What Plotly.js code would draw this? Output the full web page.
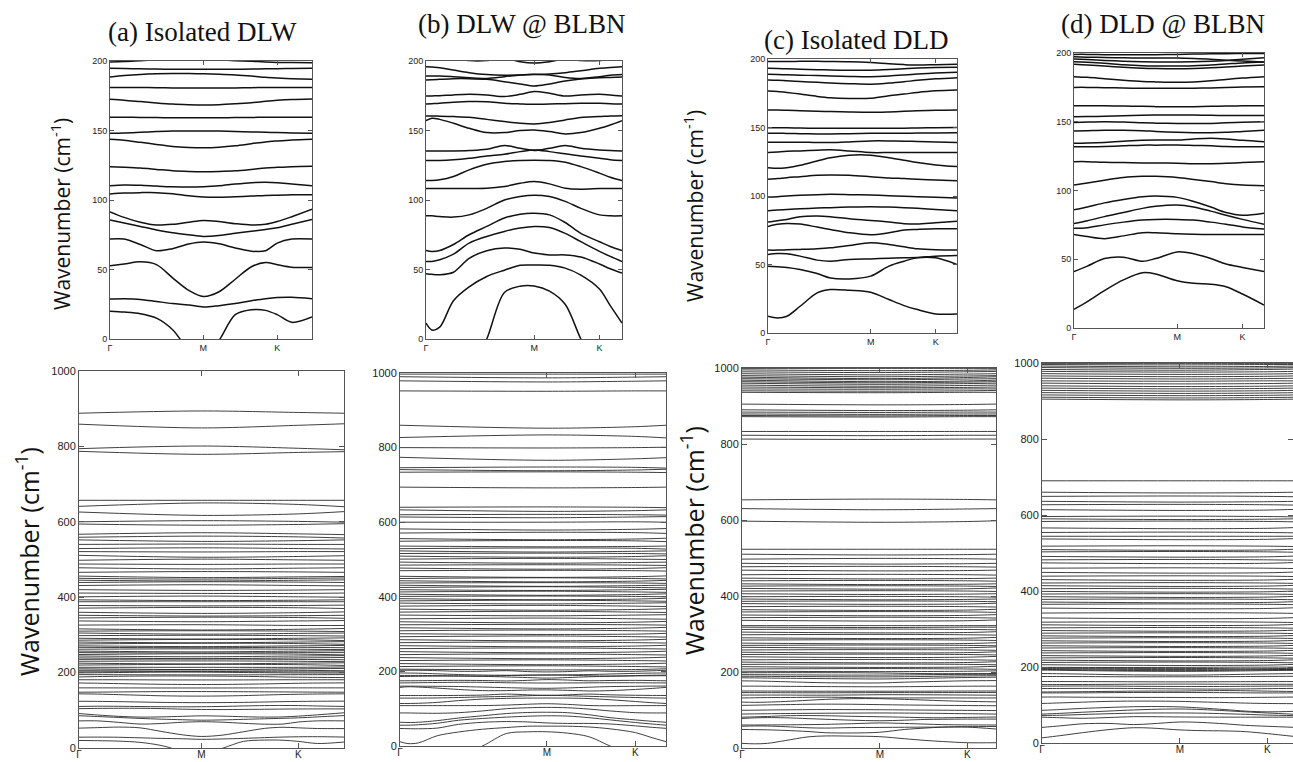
<!DOCTYPE html>
<html><head><meta charset="utf-8">
<script src="https://cdn.plot.ly/plotly-3.0.1.min.js"></script>
<style>html,body{margin:0;padding:0;background:#fff;}#chart{width:1293px;height:762px;}</style>
</head><body><div id="chart"></div>
<script>
const W = 1293, H = 762;

// ---------- DATA ----------
const symLabels = ['Γ', 'M', 'K'];
const symA = [0, 0.462, 0.828];
const symB = [0, 0.552, 0.885];
const symC = [0, 0.543, 0.887];
const symD = [0, 0.543, 0.887];

// k-grids of the low-frequency (0-200 cm-1) bands
const kTopA = [0, 0.07, 0.15, 0.23, 0.31, 0.39, 0.462, 0.54, 0.62, 0.70, 0.77, 0.828, 0.9, 1.0];
const kTopB = [0, 0.03, 0.07, 0.14, 0.22, 0.31, 0.40, 0.48, 0.552, 0.63, 0.71, 0.79, 0.885, 0.94, 1.0];
const kTopC = [0, 0.05, 0.1, 0.17, 0.26, 0.33, 0.43, 0.543, 0.64, 0.72, 0.79, 0.887, 1.0];
const kTopD = [0, 0.07, 0.16, 0.26, 0.36, 0.43, 0.543, 0.63, 0.72, 0.80, 0.887, 1.0];

// (a) Isolated DLW, low bands
const bandsTopA = [
  [20, 19.4, 18.2, 15, 6.7, -8, -15, -1, 17.5, 21, 20.6, 17.5, 12, 15.8],
  [28.7, 28.9, 28.5, 27, 25.5, 24.5, 23, 24, 25.5, 27.5, 29, 29.8, 30, 29],
  [52.7, 54, 55.5, 53.5, 44, 35, 30.6, 34, 43, 52, 55, 53.5, 51.7, 51.5],
  [71.9, 71.9, 68, 63.5, 65, 68.3, 69.7, 68.5, 65.5, 63.2, 63.5, 69, 71.9, 71.9],
  [85.7, 83.5, 81, 78.5, 76.5, 75, 73.8, 74.5, 76, 77.5, 78.8, 80, 82.5, 86],
  [91.5, 87.5, 84, 82, 82.5, 84, 85.3, 84.5, 83, 82, 82.5, 84.5, 88, 93.4],
  [104.4, 105, 105.3, 105.3, 104.5, 103, 102.2, 102, 102.3, 102.8, 103.3, 103.5, 103.7, 103.7],
  [110.2, 110.8, 110.6, 110, 109.5, 109.3, 109.5, 110.2, 111.5, 112.5, 112.8, 112.5, 111.5, 110.2],
  [124, 123.6, 123, 122, 121, 120.5, 120.3, 120.5, 121, 122, 123, 123.5, 124, 124.3],
  [143.7, 143, 141.5, 140, 138.5, 137.8, 137.6, 138, 139, 140.5, 141.8, 142.5, 143.2, 143.7],
  [148, 148.2, 148.7, 149.2, 149.6, 149.7, 149.7, 149.6, 149.3, 149, 148.7, 148.5, 148.2, 148],
  [159.5, 159.5, 159.4, 159.3, 159.2, 159.2, 159.2, 159.2, 159.3, 159.4, 159.5, 159.5, 159.5, 159.5],
  [172.4, 171.8, 170.8, 169.8, 169, 168.6, 168.4, 168.6, 169.2, 170, 171, 171.7, 172.3, 172.7],
  [181, 181, 181, 180.8, 180.6, 180.5, 180.5, 180.5, 180.6, 180.8, 181, 181, 181, 181],
  [188.5, 189.5, 190.3, 190.8, 191, 191, 190.8, 190.5, 190, 189.2, 188.3, 187.8, 187.3, 186.8],
  [194.7, 194.6, 194.4, 194.2, 194.1, 194, 194, 194, 194.1, 194.2, 194.4, 194.5, 194.6, 194.7],
  [199.3, 199.6, 200.2, 200.8, 201.2, 201.3, 201.2, 200.8, 200.2, 199.8, 199.3, 199, 198.9, 198.8]
];

// (b) DLW @ BLBN, low bands
const bandsTopB = [
  [11.5, 6.5, 8.5, 27.5, 37.5, 45, 49.5, 53, 53.2, 53, 51, 46, 36, 24, 11.5],
  [-70, -65, -58, -45, -25, 0, 33.5, 38, 38.2, 34.5, 25, 0, -25, -45, -70],
  [47, 46.5, 46.2, 48, 58, 63.5, 65.5, 64.5, 61.8, 60.5, 60.5, 59, 54, 50.5, 47.4],
  [55.8, 55.8, 57, 61, 69, 73.8, 77.4, 79.8, 81, 80.2, 76, 70, 63, 59.4, 55.8],
  [63.7, 63, 63.7, 68, 75, 81, 87, 89.8, 90.5, 89.3, 83.8, 76, 70, 66.6, 63.7],
  [88.6, 88.6, 88.1, 87.7, 89.3, 94, 100, 102.5, 103.5, 102.5, 99, 94, 89.3, 88.6, 88.6],
  [108.3, 108.3, 108.3, 108.3, 108.3, 108.4, 109.7, 112, 113.3, 111.6, 108.5, 107.8, 108.2, 108.3, 108.3],
  [114, 114, 114.5, 116.9, 121.7, 125.7, 127.7, 128.4, 128.6, 128.4, 127.2, 124, 119.3, 116.4, 114],
  [128.4, 128.4, 128.4, 128.9, 130, 131.7, 132.9, 134.8, 136, 134.8, 133.2, 131.7, 130, 129, 128.4],
  [135.3, 135.3, 135.3, 135.3, 135.6, 136.5, 139.2, 137.2, 135.6, 137.2, 139.2, 137.2, 136, 135.6, 135.3],
  [157.1, 158.8, 158, 155.2, 151.6, 148.5, 148.5, 150, 150.4, 149.2, 147.5, 148.5, 151.6, 154, 157.1],
  [160.5, 160.5, 160.3, 160, 159.5, 158, 156.4, 155.2, 154.7, 155.7, 157.6, 159.3, 160, 160.5, 160.7],
  [169.1, 169.3, 169.6, 170.3, 170.8, 170.7, 169.6, 169.1, 168.8, 169.1, 169.3, 169.6, 169.6, 169.3, 169.1],
  [174.8, 174.9, 175, 175.6, 176, 175.6, 174.4, 176, 178, 176.8, 174.8, 175.6, 176, 175.6, 174.8],
  [186.3, 186.5, 186.8, 187.3, 187.3, 186.8, 185.1, 183.5, 182, 183.5, 185.6, 187, 188, 188.2, 188.5],
  [189.2, 189.2, 189.2, 188.7, 188, 187.5, 188.7, 189.9, 190.4, 189.9, 188.2, 187.5, 188.7, 189.7, 190.2],
  [195.9, 195.6, 195.2, 193.5, 191.6, 190.2, 189.7, 189.9, 190.2, 190.6, 191.6, 193, 194.7, 195.4, 195.9],
  [203, 203, 203, 202, 200.3, 200.3, 202, 199.5, 198.6, 199.5, 201.5, 200.3, 200.3, 201.5, 203]
];

// (c) Isolated DLD, low bands
const bandsTopC = [
  [12.2, 11.0, 12.2, 19.5, 29.3, 31.7, 31.2, 29.8, 24.4, 20.0, 17.1, 13.9, 13.9],
  [48.8, 48.3, 47.8, 46.3, 43.4, 40.2, 39.5, 41.5, 48.8, 52.4, 54.9, 54.9, 50.0],
  [57.3, 58.0, 57.8, 56.1, 53.2, 52.4, 53.7, 54.1, 54.6, 54.9, 55.1, 56.1, 56.6],
  [60.5, 60.5, 60.7, 61.0, 61.5, 62.2, 63.9, 65.9, 64.6, 62.9, 61.5, 60.7, 60.5],
  [77.8, 79.3, 80.0, 79.5, 77.3, 75.6, 73.2, 71.7, 73.2, 75.1, 75.6, 76.1, 76.1],
  [81.0, 82.0, 82.9, 84.9, 85.4, 84.9, 83.4, 82.2, 81.0, 79.8, 79.5, 80.5, 81.5],
  [89.3, 89.8, 90.2, 90.7, 91.2, 91.5, 91.9, 92.2, 91.9, 91.5, 91.0, 90.2, 89.3],
  [99.3, 99.5, 100.0, 100.5, 101.0, 101.2, 101.0, 100.7, 100.2, 99.8, 99.5, 99.0, 98.5],
  [112.2, 112.7, 113.4, 114.1, 115.1, 115.4, 115.1, 114.1, 113.2, 112.7, 112.2, 111.7, 111.2],
  [120.7, 120.2, 120.7, 122.4, 125.6, 128, 129.8, 129.8, 128, 126.1, 124.4, 122.7, 121.5],
  [131.7, 132.2, 132.7, 132.9, 133.4, 133.7, 132.9, 131.7, 131.7, 131.7, 131.7, 131.7, 131.7],
  [139.2, 139.3, 139.3, 139.3, 139.0, 139.0, 139.5, 140.2, 140.2, 140.0, 139.8, 139.4, 139.0],
  [145.8, 145.8, 145.7, 145.5, 145.3, 145.3, 145.5, 145.8, 145.8, 145.8, 145.9, 146, 146.2],
  [149.9, 149.9, 149.8, 149.6, 149.4, 149.4, 149.4, 149.4, 149.4, 149.5, 149.7, 149.9, 150.0],
  [162.8, 162.8, 162.6, 162.3, 161.9, 161.6, 161.3, 161.1, 161.4, 161.8, 162.2, 162.6, 162.8],
  [176.6, 176.3, 175.6, 174.4, 172.7, 171.7, 171.2, 171.3, 173.2, 174.4, 175.6, 176.8, 177.4],
  [184.7, 184.5, 184.1, 183.6, 183.0, 182.5, 182.0, 181.6, 182.4, 183.4, 184.4, 185.5, 186.4],
  [188.8, 188.7, 188.5, 188.2, 187.9, 187.6, 187.3, 187.1, 187.6, 188.3, 189.0, 189.7, 190.3],
  [193.2, 193.0, 192.8, 192.5, 192.2, 192.0, 191.8, 191.8, 192.3, 192.9, 193.4, 193.8, 193.9],
  [198.1, 198.1, 198.2, 198.3, 198.3, 198.2, 198.0, 197.4, 196.5, 195.9, 195.6, 195.8, 196.1]
];

// (d) DLD @ BLBN, low bands
const bandsTopD = [
  [13.6, 19.2, 27.2, 35, 40.2, 39.3, 34.4, 32.5, 31.8, 30, 24.7, 16.7],
  [41, 45, 50.5, 51.5, 48.5, 50.5, 55.3, 54, 50.5, 46.5, 44, 41],
  [68, 66.5, 65, 67, 69.3, 69.3, 68.5, 68.2, 68, 68, 68, 68],
  [72.5, 73, 75, 77, 78.5, 79, 79, 78.5, 77, 75.5, 73.5, 72],
  [76, 78, 81, 84, 87, 88.5, 89.5, 88, 85, 82, 79, 75.5],
  [86, 88, 91, 93.5, 95.5, 96, 95, 92, 88, 84, 82, 83.5],
  [104, 105.5, 107.5, 109.5, 110.3, 110.3, 109.5, 108, 106.5, 105, 104, 103.5],
  [121, 121, 120.5, 120.3, 120, 120, 119.8, 119.5, 119.5, 119.8, 120.3, 121],
  [131.8, 131.8, 132, 132.5, 133, 133, 133.1, 132.8, 132.5, 132, 131.8, 131.8],
  [134.3, 134.5, 135, 135.8, 136.5, 136.7, 136.7, 137.5, 138, 137.5, 136.5, 135.5],
  [143.3, 143.5, 143.8, 143.8, 143.5, 143, 142.3, 142, 142, 142.3, 143, 143.8],
  [149.5, 149.8, 150, 149.8, 149.3, 149, 148.8, 148.7, 148.8, 149.2, 149.6, 150],
  [153.7, 153.8, 154, 154.3, 154.7, 154.9, 155, 154.9, 154.7, 154.5, 154.5, 154.5],
  [161.7, 161.7, 161.6, 161.4, 161.2, 161, 160.9, 161, 161.2, 161.4, 161.6, 161.7],
  [175, 175, 174.8, 174.5, 174.3, 174.3, 174.3, 174.4, 174.6, 174.9, 175.2, 175.5],
  [182.8, 182.3, 181.3, 180.2, 179.3, 179, 178.7, 179, 179.8, 180.8, 181.8, 182.8],
  [191.8, 191.3, 190.5, 189.7, 189, 188.7, 188.5, 188.7, 189.2, 189.8, 190.5, 191.2],
  [193.7, 193.2, 192.5, 191.5, 190.8, 190.6, 190.5, 190.8, 191.3, 192, 192.8, 193.5],
  [195.6, 195.2, 194.6, 194, 193.6, 193.5, 193.5, 193.6, 194, 194.6, 195.5, 196.5],
  [197.3, 197, 196.7, 196.5, 196.3, 196.3, 196.3, 196, 195.5, 194.8, 194.2, 193.5],
  [199, 199, 198.8, 198.7, 198.7, 198.8, 199, 199.2, 199.4, 199.5, 199.6, 199.7]
];

// high-frequency bands (values at Γ, M, K, path end)
const kHiA = [0, 0.462, 0.828, 1.0];
const kHiB = [0, 0.552, 0.885, 1.0];
const kHiC = [0, 0.543, 0.887, 1.0];
const kHiD = [0, 0.543, 0.887, 1.0];

const hiBandsA = [
  [888, 894, 890, 888], [859, 849, 856, 860], [794, 801, 795, 791], [787, 779, 784, 786],
  [657, 657, 657, 657], [641, 650, 646, 640], [626, 617, 621, 627], [600, 603, 601, 599],
  [594, 591, 593, 595], [567, 571, 568, 566], [559, 562, 560, 557], [552, 548, 550, 552],
  [540, 541, 540, 540], [529, 531, 529, 528], [521, 520, 521, 521], [511, 506, 508, 510],
  [498, 501, 499, 498], [488, 487, 488, 488], [478, 475, 477, 478], [466, 468, 467, 466],
  [456, 452, 454, 455], [450, 448, 450, 451], [445, 443, 445, 446], [439, 441, 440, 439],
  [431, 433, 431, 430], [420, 418, 419, 420], [411, 410, 410, 411], [401, 403, 401, 400],
  [393, 391, 392, 393], [388, 388, 388, 388], [378, 377, 378, 379], [371, 373, 372, 370],
  [360, 357, 359, 361], [352, 350, 351, 352], [345, 347, 346, 344], [337, 335, 337, 338],
  [326, 327, 325, 325], [316, 313, 315, 317], [310, 311, 310, 309], [305, 302, 304, 305],
  [298, 299, 298, 297], [291, 289, 291, 292], [286, 288, 287, 285], [281, 279, 281, 282],
  [276, 278, 277, 275], [271, 269, 271, 272], [267, 266, 267, 266], [262, 263, 262, 261],
  [257, 255, 257, 258], [253, 252, 253, 253], [248, 250, 249, 247], [244, 242, 244, 245],
  [239, 237, 239, 240], [235, 236, 235, 234], [230, 231, 230, 229], [225, 223, 225, 226],
  [220, 222, 221, 219], [214, 214, 214, 215], [210, 208, 210, 211], [206, 207, 206, 205],
  [202, 203, 202, 202]
];

const hiBandsB = [
  [997, 997, 997, 997], [990, 987, 989, 990], [979, 976, 978, 979], [952, 951, 952, 952],
  [860, 852, 856, 860], [827, 834, 830, 826], [800, 799, 800, 801], [774, 766, 770, 773],
  [746, 748, 747, 745], [741, 738, 740, 742], [734, 735, 734, 733], [694, 692, 693, 694],
  [640, 641, 640, 639], [633, 629, 631, 633], [620, 621, 620, 619], [614, 612, 614, 615],
  [600, 600, 601, 600], [582, 579, 581, 583], [571, 573, 572, 570], [556, 553, 555, 557],
  [549, 551, 550, 548], [536, 534, 535, 536], [529, 531, 530, 528], [523, 520, 522, 523],
  [516, 517, 516, 515], [509, 506, 508, 510], [501, 503, 501, 500], [493, 490, 492, 493],
  [485, 486, 485, 484], [477, 474, 476, 478], [470, 471, 470, 469], [455, 452, 454, 456],
  [449, 451, 449, 448], [443, 440, 442, 444], [437, 438, 437, 436], [431, 428, 430, 431],
  [425, 427, 425, 424], [419, 417, 419, 420], [413, 415, 413, 412], [407, 404, 406, 408],
  [401, 402, 401, 400], [395, 392, 394, 396], [389, 391, 389, 388], [383, 381, 383, 384],
  [375, 377, 375, 374], [367, 364, 366, 368], [359, 361, 359, 358], [351, 349, 351, 352],
  [341, 343, 341, 340], [333, 330, 332, 334], [325, 326, 325, 324], [317, 314, 316, 318],
  [309, 311, 309, 308], [301, 299, 300, 302], [293, 295, 293, 292], [285, 282, 284, 286],
  [277, 279, 277, 276], [269, 266, 268, 270], [261, 263, 261, 260], [253, 250, 252, 254],
  [245, 247, 245, 244], [237, 234, 236, 238], [229, 231, 229, 228], [221, 218, 220, 222],
  [213, 215, 213, 212], [206, 204, 205, 207]
];

const hiBandsC = [
  [999, 999, 999, 999], [995, 993, 994, 995], [990, 988, 990, 991], [985, 982, 984, 985],
  [980, 977, 979, 980], [976, 972, 975, 977], [972, 969, 971, 972], [968, 964, 966, 968],
  [964, 961, 963, 964], [960, 957, 959, 960], [955, 952, 954, 955], [950, 948, 949, 950],
  [945, 944, 945, 945], [940, 939, 940, 941], [936, 935, 936, 936], [905, 903, 904, 905],
  [890, 888, 889, 890], [884, 883, 884, 884], [879, 878, 879, 879], [875, 874, 875, 875],
  [872, 871, 872, 872], [833, 833, 833, 833], [823, 822, 823, 823], [813, 812, 813, 813],
  [653, 655, 654, 653], [630, 627, 629, 630], [597, 594, 596, 598], [523, 523, 523, 523],
  [510, 508, 509, 510], [497, 499, 498, 497], [486, 484, 485, 486], [477, 478, 477, 476],
  [468, 466, 467, 468], [456, 457, 456, 455], [447, 445, 446, 447], [440, 441, 440, 439],
  [432, 430, 431, 432], [426, 427, 426, 425], [420, 418, 419, 421], [413, 414, 413, 412],
  [406, 404, 405, 406], [398, 399, 398, 397], [392, 390, 391, 392], [386, 387, 386, 385],
  [380, 378, 379, 381], [372, 373, 372, 371], [364, 362, 363, 365], [358, 359, 358, 357],
  [350, 348, 349, 351], [343, 344, 343, 342], [336, 334, 335, 337], [322, 322, 322, 322],
  [318, 317, 318, 318], [312, 313, 312, 311], [305, 303, 304, 306], [298, 299, 298, 297],
  [290, 288, 289, 291], [284, 285, 284, 283], [276, 274, 275, 277], [270, 271, 270, 269],
  [265, 263, 264, 266], [258, 259, 258, 257], [252, 250, 251, 253], [246, 247, 246, 245],
  [240, 238, 239, 241], [232, 233, 232, 231], [226, 224, 225, 227], [220, 221, 220, 219],
  [214, 212, 213, 215], [208, 209, 208, 207], [202, 201, 202, 203]
];

const hiBandsD = [
  [999, 999, 999, 999], [996, 995, 996, 996], [992, 990, 991, 992], [988, 986, 987, 988],
  [983, 981, 983, 984], [978, 976, 977, 978], [972, 970, 971, 972], [966, 964, 965, 966],
  [960, 958, 959, 960], [953, 952, 953, 953], [947, 945, 946, 947], [940, 938, 939, 940],
  [934, 932, 933, 934], [928, 926, 927, 928], [922, 920, 921, 922], [916, 914, 915, 916],
  [910, 908, 909, 910], [905, 903, 904, 905], [690, 690, 690, 690], [660, 658, 659, 660],
  [649, 650, 649, 648], [636, 634, 635, 636], [627, 628, 627, 626], [614, 612, 613, 615],
  [596, 597, 596, 595], [590, 588, 589, 590], [583, 584, 583, 582], [566, 564, 565, 567],
  [554, 555, 554, 553], [544, 544, 544, 544], [537, 535, 536, 538], [518, 519, 518, 517],
  [509, 507, 508, 510], [503, 504, 503, 502], [491, 489, 490, 492], [482, 483, 482, 481],
  [474, 472, 473, 475], [460, 461, 460, 459], [449, 447, 448, 450], [439, 440, 439, 438],
  [430, 428, 429, 431], [421, 422, 421, 420], [414, 412, 413, 415], [406, 407, 406, 405],
  [399, 397, 398, 400], [392, 393, 392, 391], [385, 383, 384, 386], [378, 379, 378, 377],
  [371, 369, 370, 372], [365, 366, 365, 364], [355, 353, 354, 356], [342, 343, 342, 341],
  [329, 327, 328, 330], [318, 319, 318, 317], [311, 309, 310, 312], [303, 304, 303, 302],
  [296, 294, 295, 297], [289, 290, 289, 288], [282, 280, 281, 283], [276, 277, 276, 275],
  [269, 267, 268, 270], [263, 264, 263, 262], [256, 254, 255, 257], [250, 251, 250, 249],
  [243, 241, 242, 244], [237, 238, 237, 236], [230, 228, 229, 231], [224, 225, 224, 223],
  [218, 216, 217, 219], [212, 213, 212, 211], [206, 204, 205, 207]
];

const panelTitles = ['(a) Isolated DLW', '(b) DLW @ BLBN', '(c) Isolated DLD', '(d) DLD @ BLBN'];
const yTitle = 'Wavenumber (cm<sup>-1</sup>)';
const topTicks = [0, 50, 100, 150, 200];
const bottomTicks = [0, 200, 400, 600, 800, 1000];

// ---------- LAYOUT GEOMETRY (pixels) ----------
const panels = [
  {box: [110, 312, 61, 339], sym: symA, low: [kTopA, bandsTopA], hi: null, top: true, xmax: 1},
  {box: [426, 622, 61, 339], sym: symB, low: [kTopB, bandsTopB], hi: null, top: true, xmax: 1},
  {box: [768, 957, 59, 333], sym: symC, low: [kTopC, bandsTopC], hi: null, top: true, xmax: 1},
  {box: [1074, 1264, 53, 328], sym: symD, low: [kTopD, bandsTopD], hi: null, top: true, xmax: 1},
  {box: [79, 344, 371, 748], sym: symA, low: [kTopA, bandsTopA], hi: [kHiA, hiBandsA], top: false, xmax: 1},
  {box: [400, 666, 373, 746], sym: symB, low: [kTopB, bandsTopB], hi: [kHiB, hiBandsB], top: false, xmax: 1},
  {box: [742, 996, 368, 748], sym: symC, low: [kTopC, bandsTopC], hi: [kHiC, hiBandsC], top: false, xmax: 1},
  {box: [1042, 1293, 363, 743], sym: symD, low: [kTopD, bandsTopD], hi: [kHiD, hiBandsD], top: false, xmax: 0.988}
];

function bandTrace(k, bands, xa, ya, width, color) {
  const x = [], y = [];
  bands.forEach(b => {
    b.forEach((v, i) => { x.push(k[i]); y.push(v); });
    x.push(null); y.push(null);
  });
  return {type: 'scatter', mode: 'lines', x: x, y: y, xaxis: xa, yaxis: ya,
    connectgaps: false, hoverinfo: 'skip', showlegend: false,
    line: {color: color, width: width, shape: 'spline', smoothing: 0.9}};
}

const traces = [];
const layout = {
  width: W, height: H, margin: {l: 0, r: 0, t: 0, b: 0},
  paper_bgcolor: '#ffffff', plot_bgcolor: '#ffffff', showlegend: false,
  font: {family: 'Liberation Sans, Arial, sans-serif', color: '#222'},
  annotations: []
};

panels.forEach((p, idx) => {
  const n = idx + 1;
  const xa = n === 1 ? 'x' : 'x' + n;
  const ya = n === 1 ? 'y' : 'y' + n;
  const [x0, x1, y0, y1] = p.box;
  const fs = p.top ? 9 : 11;
  const axCommon = {
    showline: true, linecolor: '#555', linewidth: 1, mirror: 'ticks',
    ticks: 'inside', ticklen: p.top ? 4 : 5, tickwidth: 1, tickcolor: '#555',
    showgrid: false, zeroline: false, fixedrange: true,
    tickfont: {size: fs, color: '#222', family: 'Liberation Sans, Arial, sans-serif'}
  };
  layout['xaxis' + (n === 1 ? '' : n)] = Object.assign({}, axCommon, {
    domain: [x0 / W, Math.min(1, x1 / W)], anchor: ya,
    range: [0, p.xmax], tickmode: 'array', tickvals: p.sym, ticktext: symLabels,
    tickfont: {size: p.top ? 9 : 10, color: '#222', family: 'Liberation Sans, Arial, sans-serif'},
    ticklabelstandoff: p.top ? 0 : -3
  });
  layout['yaxis' + (n === 1 ? '' : n)] = Object.assign({}, axCommon, {
    domain: [1 - y1 / H, 1 - y0 / H], anchor: xa,
    range: p.top ? [0, 200] : [0, 1000], tickmode: 'array',
    tickvals: p.top ? topTicks : bottomTicks
  });
  const w = p.top ? 1.5 : 0.9;
  const col = p.top ? '#111' : '#2a2a2a';
  traces.push(bandTrace(p.low[0], p.low[1], xa, ya, w, col));
  if (p.hi) traces.push(bandTrace(p.hi[0], p.hi[1], xa, ya, w, col));
});

// panel titles
const titlePos = [[202, 32], [522, 24], [856, 40], [1163, 24]];
panelTitles.forEach((t, i) => {
  layout.annotations.push({
    text: t, xref: 'paper', yref: 'paper', x: titlePos[i][0] / W, y: 1 - titlePos[i][1] / H,
    xanchor: 'center', yanchor: 'middle', showarrow: false,
    font: {family: 'Liberation Serif, Times New Roman, serif', size: 27, color: '#111'}
  });
});

// y-axis titles
const yTitlePos = [[60, 214, 21], [27, 562, 25], [693, 206, 21], [692, 541, 25]];
yTitlePos.forEach(q => {
  layout.annotations.push({
    text: yTitle, xref: 'paper', yref: 'paper', x: q[0] / W, y: 1 - q[1] / H,
    xanchor: 'center', yanchor: 'middle', showarrow: false, textangle: -90,
    font: {family: 'Open Sans, Liberation Sans, sans-serif', size: q[2], color: '#111'}
  });
});

Plotly.newPlot('chart', traces, layout, {staticPlot: true, displayModeBar: false});
</script>
</body></html>
